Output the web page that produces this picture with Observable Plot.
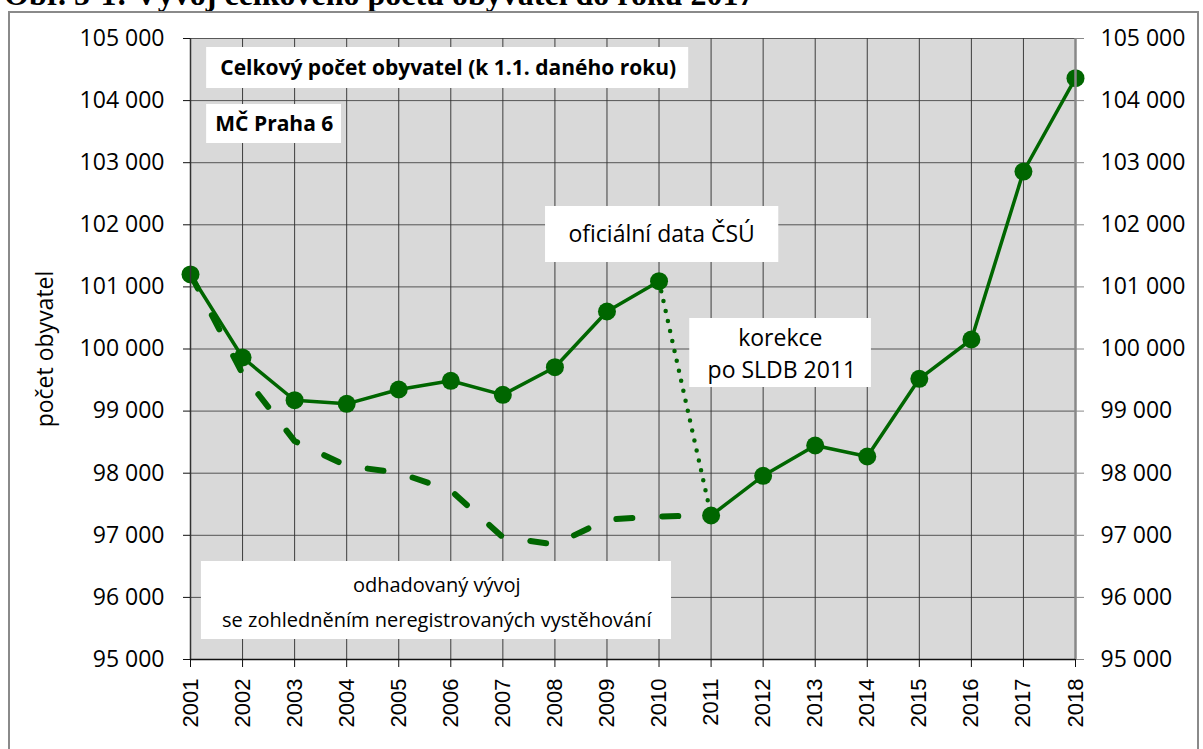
<!DOCTYPE html>
<html><head><meta charset="utf-8">
<script src="https://cdn.jsdelivr.net/npm/d3@7"></script>
<script src="https://cdn.jsdelivr.net/npm/@observablehq/plot@0.6"></script>
<style>
body{margin:0;background:#fff;overflow:hidden;}
#wrap{position:relative;width:1203px;height:749px;overflow:hidden;background:#fff;}
#frame{position:absolute;left:8px;top:11px;width:1191px;height:800px;border:2px solid #8a8a8a;box-sizing:border-box;}
#caption{position:absolute;left:4px;top:-22px;font:bold 32px/32px "Liberation Serif","Times New Roman",serif;white-space:nowrap;color:#000;}
#chart{position:absolute;left:0;top:0;}
</style></head><body>
<div id="wrap"><div id="caption">Obr. 5-1: Vývoj celkového počtu obyvatel do roku 2017</div><div id="frame"></div><div id="chart"></div></div>
<script>
// Categories
const years = [2001,2002,2003,2004,2005,2006,2007,2008,2009,2010,2011,2012,2013,2014,2015,2016,2017,2018];
// Official data ČSÚ (solid line with markers); the line breaks between 2010 and 2011
const official = [101200,99863,99175,99117,99348,99488,99262,99707,100604,101092,97319,97958,98446,98269,99520,100153,102858,104361];
const officialSegment = ["a","a","a","a","a","a","a","a","a","a","b","b","b","b","b","b","b","b"];
// Estimated development (dashed)
const estYears = [2001,2002,2003,2004,2005,2006,2007,2008,2009,2010,2011];
const estimated = [101200,99600,98516,98119,98006,97721,96970,96852,97254,97303,97319];
// Correction after SLDB 2011 (dotted)
const corrYears = [2010,2011];
const correction = [101092,97319];
// Tick labels
const yTicks = [95000,96000,97000,98000,99000,100000,101000,102000,103000,104000,105000];
// Annotation boxes (data coordinates)
const boxX1 = [2001.31,2001.31,2007.82,2010.59,2001.21];
const boxX2 = [2010.57,2003.90,2012.30,2014.08,2010.24];
const boxY1 = [104855,103937,102295,100491,96578];
const boxY2 = [104195,103309,101393,99380,95322];
// Annotation texts
const noteText = ["Celkový počet obyvatel (k 1.1. daného roku)","MČ Praha 6","oficiální data ČSÚ","korekce","po SLDB 2011","odhadovaný vývoj","se zohledněním neregistrovaných vystěhování"];
const noteX = [2005.95,2002.61,2010.05,2012.33,2012.36,2005.73,2005.73];
const noteY = [104525,103623,101844,100164,99654,96192,95628];
const noteSize = [21,21,23,23,23,20,20];
const noteBold = [true,true,false,false,false,false,false];

const green = "#006600";
const offData = years.map((x,i)=>({x, y: official[i], seg: officialSegment[i]}));
const estData = estYears.map((x,i)=>({x, y: estimated[i]}));
const corrData = corrYears.map((x,i)=>({x, y: correction[i]}));
const boxes = boxX1.map((x1,i)=>({x1, x2: boxX2[i], y1: boxY1[i], y2: boxY2[i]}));
const notes = noteText.map((t,i)=>({text:t, x: noteX[i], y: noteY[i], size: noteSize[i], bold: noteBold[i]}));
const fmt = d3.formatLocale({thousands:" ", grouping:[3], decimal:","}).format(",d");
const font = "'Open Sans', 'Noto Sans', sans-serif";

const textMarks = [21,20,23].flatMap(sz => [true,false].map(b => {
  const sub = notes.filter(d => d.size === sz && d.bold === b);
  return Plot.text(sub, {x: "x", y: "y", text: "text", fontSize: sz, fontWeight: b ? "bold" : "normal", fill: "#000"});
}));

const chart = Plot.plot({
  width: 1203, height: 749,
  marginLeft: 190, marginRight: 128, marginTop: 38, marginBottom: 90,
  style: {background: "transparent", fontFamily: font, color: "#000"},
  x: {domain: [2001, 2018]},
  y: {domain: [95000, 105000]},
  marks: [
    Plot.frame({fill: "#d9d9d9", stroke: null}),
    Plot.gridX(years, {stroke: "#222", strokeOpacity: 0.85}),
    Plot.gridY(yTicks, {stroke: "#333", strokeOpacity: 0.8}),
    Plot.rect(boxes, {x1: "x1", x2: "x2", y1: "y1", y2: "y2", fill: "white"}),
    ...textMarks,
    Plot.line(estData, {x: "x", y: "y", stroke: green, strokeWidth: 6, strokeDasharray: "16,30", strokeLinecap: "round", strokeLinejoin: "round"}),
    Plot.line(corrData, {x: "x", y: "y", stroke: green, strokeWidth: 4.5, strokeDasharray: "0,10.2", strokeLinecap: "round"}),
    Plot.line(offData, {x: "x", y: "y", z: "seg", stroke: green, strokeWidth: 3.5}),
    Plot.dot(offData, {x: "x", y: "y", r: 9, fill: green}),
    Plot.ruleX([2001], {stroke: "#333", strokeWidth: 1.5}),
    Plot.ruleX([2018], {stroke: "#888", strokeWidth: 2.5}),
    Plot.ruleY([95000], {stroke: "#111", strokeWidth: 1.5}),
    Plot.axisY(yTicks, {anchor: "left", tickSize: 7, tickPadding: 19, tickFormat: fmt, fontSize: 23, label: null, stroke: "#111"}),
    Plot.axisY(yTicks, {anchor: "right", tickSize: 8, tickPadding: 17, tickFormat: fmt, fontSize: 23, label: null, stroke: "#888"}),
    Plot.axisX(years, {anchor: "bottom", tickSize: 8, tickPadding: 11, tickRotate: -90, tickFormat: d => String(d), fontSize: 22, fontFamily: "'Liberation Sans', Arial, sans-serif", label: null, stroke: "#111"}),
    Plot.text(["počet obyvatel"], {frameAnchor: "left", textAnchor: "middle", dx: -145, rotate: -90, fontSize: 23, fill: "#000"})
  ]
});
document.getElementById("chart").appendChild(chart);
</script>
</body></html>
